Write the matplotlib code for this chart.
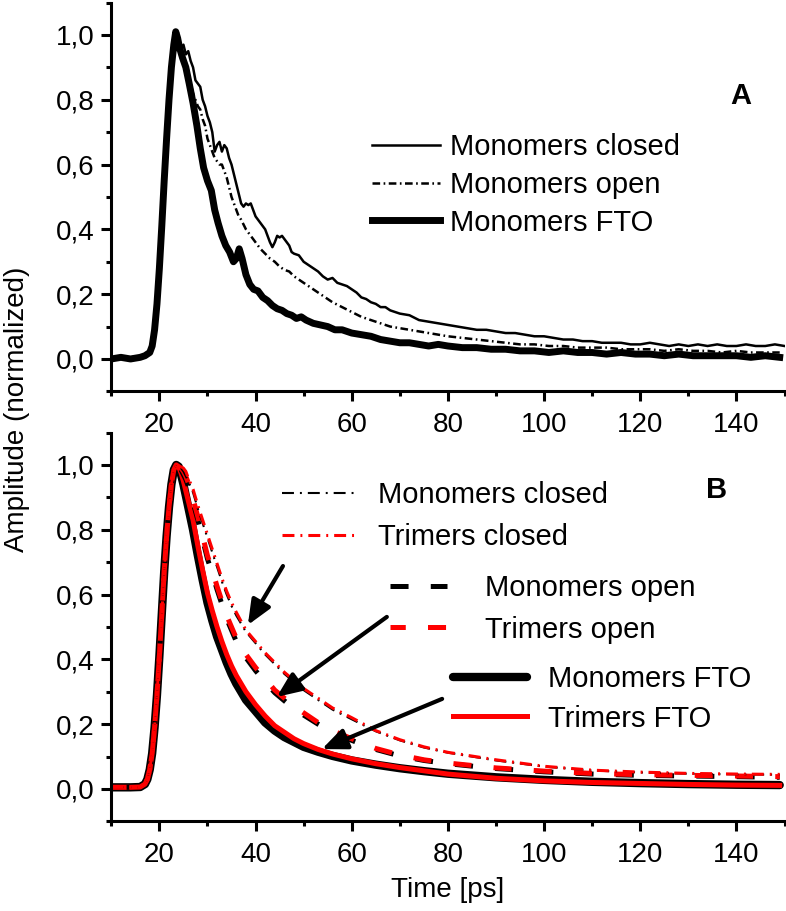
import matplotlib
matplotlib.use("Agg")
import matplotlib.pyplot as plt
from matplotlib.ticker import MultipleLocator, FuncFormatter

plt.rcParams['font.family'] = ['Liberation Sans', 'DejaVu Sans']
plt.rcParams['lines.scale_dashes'] = False

# ---------------- panel A: measured traces ----------------
t_fto = [10, 12, 14, 16, 17, 18, 18.5, 19, 19.5, 20, 20.5, 21, 21.5, 22, 22.5, 23, 23.4,
         23.8, 24.2, 24.8, 25.5, 26.2, 27, 27.8, 28.5, 29.2, 30, 30.8, 31.5, 32.2, 33, 33.8,
         34.6, 35.4, 36, 36.6, 37.2, 38, 38.8, 39.6, 40.5, 41.5, 42.5, 43.5, 44.5, 45.5, 46.5,
         47.5, 48.5, 49.5, 50.5, 52, 53.5, 55, 56.5, 58, 60, 62, 64, 66, 68, 70, 72, 74, 76,
         78, 80, 83, 86, 89, 92, 95, 98, 101, 104, 107, 110, 113, 116, 119, 122, 125, 128,
         131, 134, 137, 140, 143, 146, 149]
a_fto = [0.0, 0.005, 0.0, 0.005, 0.01, 0.02, 0.04, 0.09, 0.17, 0.28, 0.41, 0.55, 0.68, 0.80, 0.90, 0.97, 1.01,
         0.99, 0.96, 0.93, 0.90, 0.85, 0.79, 0.72, 0.65, 0.59, 0.55, 0.52, 0.46, 0.42, 0.38, 0.35,
         0.33, 0.30, 0.31, 0.34, 0.31, 0.26, 0.23, 0.215, 0.21, 0.19, 0.18, 0.165, 0.155, 0.15, 0.14,
         0.135, 0.125, 0.13, 0.12, 0.11, 0.105, 0.10, 0.09, 0.09, 0.08, 0.075, 0.07, 0.06, 0.055, 0.05, 0.05, 0.045, 0.04,
         0.045, 0.04, 0.035, 0.035, 0.03, 0.03, 0.025, 0.025, 0.02, 0.025, 0.02, 0.02, 0.015, 0.02, 0.015, 0.015, 0.01, 0.015,
         0.01, 0.01, 0.01, 0.01, 0.005, 0.01, 0.005]

t_closed = [10, 14, 17, 18, 18.5, 19, 19.5, 20, 20.5, 21, 21.5, 22, 22.5, 23, 23.5, 24, 24.5, 25,
            25.5, 26, 26.5, 27, 27.5, 28, 28.5, 29, 29.5, 30, 30.5, 31, 31.5, 32, 32.5, 33, 33.5,
            34, 34.5, 35, 35.5, 36, 36.5, 37, 37.5, 38, 38.5, 39, 39.5, 40, 41, 42, 42.5, 43,
            43.5, 44, 44.5, 45, 45.5, 46, 46.5, 47, 47.5, 48, 49, 50, 51, 52, 53, 54, 55, 56, 57,
            58, 59, 60, 61, 62, 63, 64, 65, 66, 67, 68, 69, 70, 72, 74, 76, 78, 80, 82, 84, 86,
            88, 90, 92, 94, 96, 98, 100, 102, 104, 106, 108, 110, 112, 114, 116, 118, 120, 122,
            124, 126, 128, 130, 132, 134, 136, 138, 140, 142, 144, 146, 148, 150]
a_closed = [0.0, 0.005, 0.01, 0.02, 0.04, 0.08, 0.16, 0.27, 0.40, 0.53, 0.66, 0.78, 0.88, 0.95, 0.97, 0.99, 0.96, 0.97,
            0.94, 0.95, 0.92, 0.90, 0.86, 0.85, 0.84, 0.80, 0.78, 0.75, 0.73, 0.70, 0.64, 0.66, 0.67, 0.64, 0.66,
            0.65, 0.62, 0.60, 0.57, 0.54, 0.51, 0.48, 0.47, 0.48, 0.475, 0.48, 0.46, 0.44, 0.42, 0.40, 0.38, 0.36,
            0.345, 0.36, 0.38, 0.375, 0.38, 0.37, 0.36, 0.35, 0.33, 0.325, 0.32, 0.30, 0.29, 0.28, 0.27, 0.255, 0.245, 0.25, 0.235,
            0.23, 0.225, 0.215, 0.205, 0.19, 0.185, 0.175, 0.17, 0.16, 0.16, 0.15, 0.145, 0.14, 0.135, 0.12, 0.115, 0.11, 0.105, 0.10, 0.095, 0.09,
            0.09, 0.085, 0.08, 0.08, 0.075, 0.07, 0.07, 0.065, 0.06, 0.06, 0.055, 0.055, 0.05, 0.05, 0.05, 0.045, 0.045, 0.05,
            0.045, 0.04, 0.045, 0.04, 0.045, 0.04, 0.045, 0.04, 0.04, 0.045, 0.04, 0.04, 0.045, 0.04]

t_open = [10, 14, 17, 18, 18.5, 19, 19.5, 20, 20.5, 21, 21.5, 22, 22.5, 23, 23.5, 24, 24.5, 25, 25.5,
          26, 26.5, 27, 27.5, 28, 28.5, 29, 29.5, 30, 30.5, 31, 31.5, 32, 32.5, 33, 33.5, 34, 34.5,
          35, 35.5, 36, 36.5, 37, 38, 39, 40, 41, 42, 43, 44, 45, 46, 47, 48, 49, 50, 52, 54, 56,
          58, 60, 62, 64, 66, 68, 70, 72, 74, 76, 78, 80, 83, 86, 89, 92, 95, 98, 101, 104, 107,
          110, 113, 116, 119, 122, 125, 128, 131, 134, 137, 140, 143, 146, 149]
a_open = [0.0, 0.005, 0.01, 0.02, 0.04, 0.08, 0.16, 0.27, 0.40, 0.53, 0.66, 0.78, 0.87, 0.94, 0.96, 0.95, 0.93, 0.92, 0.90,
          0.88, 0.85, 0.82, 0.80, 0.78, 0.77, 0.74, 0.72, 0.68, 0.66, 0.64, 0.62, 0.61, 0.60, 0.60, 0.58, 0.56, 0.53,
          0.50, 0.48, 0.46, 0.44, 0.43, 0.40, 0.38, 0.36, 0.34, 0.325, 0.31, 0.30, 0.285, 0.275, 0.27, 0.255, 0.245, 0.235, 0.215, 0.195, 0.175,
          0.16, 0.145, 0.13, 0.12, 0.11, 0.10, 0.095, 0.09, 0.085, 0.08, 0.075, 0.07, 0.065, 0.06, 0.055, 0.05, 0.045, 0.045, 0.04, 0.04, 0.035,
          0.035, 0.035, 0.03, 0.03, 0.03, 0.025, 0.03, 0.025, 0.025, 0.02, 0.025, 0.02, 0.02, 0.02]

# ---------------- panel B: fitted curves ----------------
t_fit = [10, 14, 16, 17, 17.5, 18, 18.5, 19, 19.5, 20, 20.5, 21, 21.5, 22, 22.5, 23, 23.5, 24,
         24.5, 25, 25.5, 26, 27, 28, 29, 30, 31, 32, 33, 34, 35, 36, 38, 40, 42, 44, 46, 48, 50,
         53, 56, 60, 65, 70, 75, 80, 90, 100, 110, 120, 130, 140, 149]
rise = [0.005, 0.005, 0.006, 0.015, 0.03, 0.06, 0.11, 0.19, 0.29, 0.41, 0.54, 0.67, 0.78, 0.87, 0.94, 0.985, 1.0, 0.995]
mono_closed = rise + [0.99, 0.98, 0.965, 0.95, 0.915, 0.865, 0.82, 0.775, 0.73, 0.685, 0.64, 0.6, 0.565, 0.535, 0.485,
                      0.45, 0.415, 0.385, 0.355, 0.33, 0.305, 0.275, 0.245, 0.215, 0.178, 0.15, 0.128, 0.112,
                      0.088, 0.069, 0.057, 0.051, 0.047, 0.045, 0.044]
tri_closed = rise + [0.995, 0.99, 0.98, 0.96, 0.925, 0.875, 0.83, 0.785, 0.74, 0.695, 0.65, 0.61, 0.575, 0.545, 0.49,
                     0.455, 0.42, 0.39, 0.36, 0.335, 0.31, 0.28, 0.25, 0.22, 0.18, 0.152, 0.13, 0.113,
                     0.09, 0.07, 0.058, 0.052, 0.048, 0.046, 0.045]
mono_open = rise + [0.985, 0.97, 0.955, 0.935, 0.885, 0.83, 0.77, 0.71, 0.665, 0.615, 0.57, 0.525, 0.49, 0.455, 0.405,
                    0.365, 0.33, 0.297, 0.272, 0.248, 0.228, 0.2, 0.175, 0.15, 0.122, 0.102, 0.088, 0.078,
                    0.063, 0.053, 0.046, 0.042, 0.04, 0.038, 0.036]
tri_open = rise + [0.99, 0.98, 0.965, 0.945, 0.895, 0.84, 0.78, 0.72, 0.675, 0.625, 0.58, 0.535, 0.5, 0.465, 0.415,
                   0.375, 0.34, 0.305, 0.28, 0.255, 0.235, 0.205, 0.18, 0.155, 0.125, 0.105, 0.09, 0.08,
                   0.065, 0.055, 0.048, 0.044, 0.042, 0.04, 0.038]
mono_fto = rise + [0.97, 0.94, 0.905, 0.87, 0.80, 0.72, 0.645, 0.575, 0.52, 0.47, 0.43, 0.39, 0.355, 0.325, 0.275,
                   0.24, 0.205, 0.18, 0.16, 0.145, 0.13, 0.115, 0.102, 0.088, 0.075, 0.064, 0.055, 0.047,
                   0.036, 0.028, 0.022, 0.018, 0.015, 0.013, 0.012]
tri_fto = rise + [0.975, 0.95, 0.92, 0.89, 0.83, 0.75, 0.675, 0.605, 0.55, 0.5, 0.455, 0.415, 0.38, 0.35, 0.3,
                  0.26, 0.225, 0.195, 0.175, 0.155, 0.14, 0.122, 0.108, 0.093, 0.078, 0.066, 0.056, 0.046,
                  0.033, 0.025, 0.02, 0.017, 0.014, 0.012, 0.011]

# arrows: (start x, start y, tip x, tip y)
arrows = [(45.7, 0.688, 38.4, 0.506), (67.3, 0.531, 44.4, 0.284), (78.8, 0.278, 53.8, 0.123)]

fig = plt.figure(figsize=(7.86, 9.11), dpi=100)
ax1 = fig.add_axes([0.1416, 0.5704, 0.8565, 0.4268])
ax2 = fig.add_axes([0.1416, 0.0984, 0.8565, 0.4268])

def style_axis(ax):
    ax.set_xlim(10, 150)
    ax.set_ylim(-0.1, 1.1)
    ax.spines['top'].set_visible(False)
    ax.spines['right'].set_visible(False)
    ax.spines['left'].set_linewidth(2.2)
    ax.spines['bottom'].set_linewidth(2.2)
    ax.xaxis.set_major_locator(MultipleLocator(20))
    ax.xaxis.set_minor_locator(MultipleLocator(10))
    ax.yaxis.set_major_locator(MultipleLocator(0.2))
    ax.yaxis.set_minor_locator(MultipleLocator(0.1))
    ax.yaxis.set_major_formatter(FuncFormatter(lambda v, p: f"{v:.1f}".replace('.', ',').replace('-0,0', '0,0')))
    ax.tick_params(which='major', direction='out', length=7, width=2.2, labelsize=20)
    ax.tick_params(axis='x', which='major', pad=8)
    ax.tick_params(axis='y', which='major', pad=5)
    ax.tick_params(which='minor', direction='out', length=3.6, width=2.2)
    ax.set_ylim(-0.1, 1.1)

style_axis(ax1)
style_axis(ax2)

# panel A
ax1.plot(t_closed, a_closed, color='black', lw=1.8, label='Monomers closed')
ax1.plot(t_open, a_open, color='black', lw=1.8, ls=(0, (5.5, 2.5, 1.2, 2.5)), label='Monomers open')
ax1.plot(t_fto, a_fto, color='black', lw=5, solid_joinstyle='round', label='Monomers FTO')
ax1.legend(loc='center left', bbox_to_anchor=(372 / 786, 1 - 185 / 911), bbox_transform=fig.transFigure,
           frameon=False, fontsize=21, handlelength=2.33, handletextpad=0.34, labelspacing=0.33,
           borderpad=0, borderaxespad=0)
ax1.text(741, 911 - 96, 'A', transform=None, fontsize=21, fontweight='bold', ha='center', va='center')

# panel B
l_fto_m, = ax2.plot(t_fit, mono_fto, color='black', lw=6, solid_capstyle='round', label='Monomers FTO')
l_fto_t, = ax2.plot(t_fit, tri_fto, color='red', lw=3.6, label='Trimers FTO')
l_open_m, = ax2.plot(t_fit, mono_open, color='black', lw=3.6, ls=(0, (13, 16)), label='Monomers open')
l_open_t, = ax2.plot(t_fit, tri_open, color='red', lw=3.6, ls=(2, (13, 16)), label='Trimers open')
l_cl_m, = ax2.plot(t_fit, mono_closed, color='black', lw=1.5, ls=(0, (8.6, 4.3, 1.4, 4.3)), label='Monomers closed')
l_cl_t, = ax2.plot(t_fit, tri_closed, color='red', lw=2.2, ls=(0, (8.6, 4.3, 1.4, 4.3)), label='Trimers closed')

common = dict(loc='center left', bbox_transform=fig.transFigure, frameon=False, fontsize=21,
              borderpad=0, borderaxespad=0)
leg1 = ax2.legend(handles=[l_cl_m, l_cl_t], bbox_to_anchor=(282 / 786, 1 - 516 / 911),
                  handlelength=2.57, handletextpad=0.72, labelspacing=0.47, **common)
ax2.add_artist(leg1)
leg2 = ax2.legend(handles=[l_open_m, l_open_t], bbox_to_anchor=(390 / 786, 1 - 609 / 911),
                  handlelength=1.95, handletextpad=1.3, labelspacing=0.45, **common)
ax2.add_artist(leg2)
ax2.legend(handles=[l_fto_m, l_fto_t], bbox_to_anchor=(453 / 786, 1 - 699 / 911),
           handlelength=2.53, handletextpad=0.72, labelspacing=0.38, **common)

for x0, y0, x1, y1 in arrows:
    ax2.annotate('', xy=(x1, y1), xytext=(x0, y0),
                 arrowprops=dict(arrowstyle='-|>,head_length=0.75,head_width=0.32', lw=3,
                                 color='black', mutation_scale=20, shrinkA=0, shrinkB=0))
ax2.text(717, 911 - 490, 'B', transform=None, fontsize=21, fontweight='bold', ha='center', va='center')

ax2.set_xlabel('Time [ps]', fontsize=20, labelpad=6)
fig.text(0.021, 0.551, 'Amplitude (normalized)', rotation=90, fontsize=20, ha='center', va='center')

fig.savefig('out.png', dpi=100)
